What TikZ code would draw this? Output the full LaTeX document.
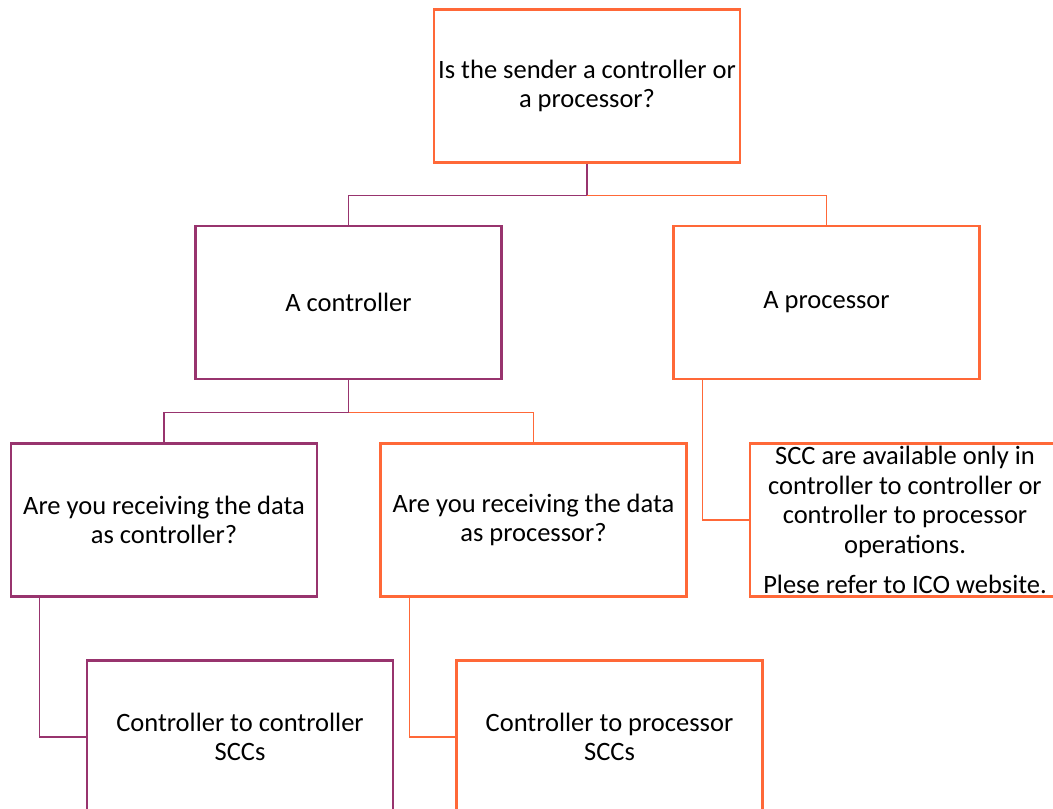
\documentclass[tikz,border=0pt]{standalone}
\usepackage{fontspec}
\setmainfont{Carlito}
\usepackage{tikz}
\usetikzlibrary{positioning}
\definecolor{icoorange}{RGB}{255,104,56}
\definecolor{icopurple}{RGB}{152,52,110}
\tikzset{choicebox/.style={draw,rectangle,line width=2.6pt,minimum width=306pt,minimum height=153pt,
        align=center,inner sep=1pt,font=\fontsize{26.5}{29.5}\selectfont},
    purplebox/.style={choicebox,draw=icopurple},
    orangebox/.style={choicebox,draw=icoorange},
    purplelink/.style={icopurple,line width=1.3pt},
    orangelink/.style={icoorange,line width=1.3pt}
}

\begin{document}
\begin{tikzpicture}[x=1pt,y=-1pt]

\useasboundingbox (0,0) rectangle (1053,809);

% question and first answers
\node (sender) at (587,86) [orangebox] {Is the sender a controller or\\ a processor?};
\node (ctrl) at (348.5,302.5) [purplebox] {A controller};
\node (proc) at (826.5,302.5) [orangebox] {A processor};

% second level
\node (asctrl) at (164,520) [purplebox] {Are you receiving the data\\ as controller?};
\node (asproc) at (533.5,520) [orangebox] {Are you receiving the data\\ as processor?};
\node (sccnote) at (905,520) [orangebox,minimum width=310pt] {SCC are available only in\\ controller to controller or\\ controller to processor\\ operations.\\[11pt] Plese refer to ICO website.};

% outcomes
\node (ctoc) at (240,737) [purplebox] {Controller to controller\\ SCCs};
\node (ctop) at (609.5,737) [orangebox] {Controller to processor\\ SCCs};

\draw [purplelink] (sender.south) -- ++(0,32) -| (ctrl.north);
\draw [orangelink] (sender.south) ++(0,32) -| (proc.north);

\draw [purplelink] (ctrl.south) -- ++(0,32) -| (asctrl.north);
\draw [orangelink] (ctrl.south) ++(0,32) -| (asproc.north);

\draw [orangelink] ([xshift=30pt]proc.south west) |- (sccnote.west);
\draw [purplelink] ([xshift=30pt]asctrl.south west) |- (ctoc.west);
\draw [orangelink] ([xshift=30pt]asproc.south west) |- (ctop.west);

\end{tikzpicture}
\end{document}
